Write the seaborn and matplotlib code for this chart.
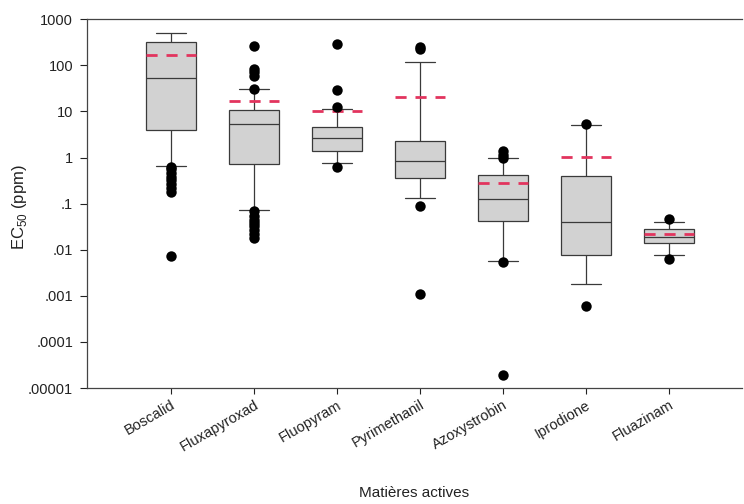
import matplotlib
matplotlib.use("Agg")
import matplotlib.pyplot as plt
import numpy as np
import pandas as pd
import seaborn as sns

# Active ingredients (x categories)
drugs = ["Boscalid", "Fluxapyroxad", "Fluopyram", "Pyrimethanil",
         "Azoxystrobin", "Iprodione", "Fluazinam"]

# Box statistics (ppm): whisker caps are 10th / 90th percentiles
whisker_low = [0.66, 0.071, 0.75, 0.13, 0.0058, 0.0018, 0.0078]
q1 = [4.0, 0.71, 1.39, 0.355, 0.043, 0.0078, 0.0138]
median = [52, 5.3, 2.6, 0.83, 0.126, 0.04, 0.0186]
q3 = [325, 10.7, 4.6, 2.33, 0.41, 0.39, 0.028]
whisker_high = [510, 30, 11.5, 120, 0.98, 5.1, 0.040]

# Mean values (red dashed lines)
means = [165, 17, 10.3, 21, 0.275, 1.01, 0.022]

# Points outside the whiskers
outliers = [
    [0.62, 0.55, 0.45, 0.38, 0.32, 0.27, 0.22, 0.18, 0.0074],
    [260, 85, 70, 58, 30, 0.068, 0.055, 0.045, 0.038, 0.032, 0.027, 0.022, 0.018],
    [290, 29, 12.3, 0.62],
    [250, 220, 0.089, 0.0011],
    [1.35, 1.15, 1.0, 0.0055, 0.000019],
    [5.2, 0.00059],
    [0.047, 0.0063],
]

y_ticks = [1e3, 1e2, 1e1, 1, 1e-1, 1e-2, 1e-3, 1e-4, 1e-5]
y_tick_labels = ["1000", "100", "10", "1", ".1", ".01", ".001", ".0001", ".00001"]

# five-number table -> seaborn computes box from it (whis=(0,100) -> caps at min/max)
rows = []
for i, d in enumerate(drugs):
    for v in (whisker_low[i], q1[i], median[i], q3[i], whisker_high[i]):
        rows.append({"drug": d, "ec50": v})
box_df = pd.DataFrame(rows)

out_df = pd.DataFrame(
    [{"drug": d, "ec50": v} for d, vals in zip(drugs, outliers) for v in vals]
)

sns.set_style("ticks")
plt.rcParams["font.family"] = ["Liberation Sans", "DejaVu Sans"]
plt.rcParams["mathtext.fontset"] = "custom"
plt.rcParams["mathtext.rm"] = "Liberation Sans"

fig = plt.figure(figsize=(7.44, 5.04), dpi=100)
ax = fig.add_axes([0.117, 0.230, 0.880, 0.732])

sns.boxplot(data=box_df, x="drug", y="ec50", order=drugs, whis=(0, 100),
            width=0.6, color="#d2d2d2", saturation=1, linecolor="#3a3a3a",
            linewidth=0.9, log_scale=True, capwidths=0.36, ax=ax)

sns.stripplot(data=out_df, x="drug", y="ec50", order=drugs, jitter=False,
              color="black", size=7.5, linewidth=0, zorder=5, ax=ax)

# mean lines
xpos = np.arange(len(drugs))
ax.hlines(means, xpos - 0.3, xpos + 0.3, colors="#e2345e", linewidth=2,
          linestyles=(0, (4, 3.2)), zorder=4)

ax.set_yscale("log")
ax.set_ylim(1e-5, 1e3)
ax.set_yticks(y_ticks)
ax.set_yticklabels(y_tick_labels)
ax.minorticks_off()
ax.set_xlim(-1.01, 6.88)
ax.set_xticks(xpos)
ax.set_xticklabels(drugs, rotation=30, ha="right", rotation_mode="anchor")

ax.tick_params(axis="y", direction="out", length=5, width=0.8, labelsize=10.5,
               pad=5, colors="#222")
ax.tick_params(axis="x", direction="out", length=4, width=0.8, labelsize=10.5,
               pad=3, colors="#222")

for side in ("left", "bottom", "top"):
    ax.spines[side].set_visible(True)
    ax.spines[side].set_color("#444")
    ax.spines[side].set_linewidth(0.9)
ax.spines["right"].set_visible(False)

ax.set_ylabel("EC$_{50}$ (ppm)", fontsize=12, color="#222")
ax.yaxis.set_label_coords(-0.088, 0.49)
ax.set_xlabel("Matières actives", fontsize=11, color="#222", labelpad=23)

fig.savefig("out.png", dpi=100)
